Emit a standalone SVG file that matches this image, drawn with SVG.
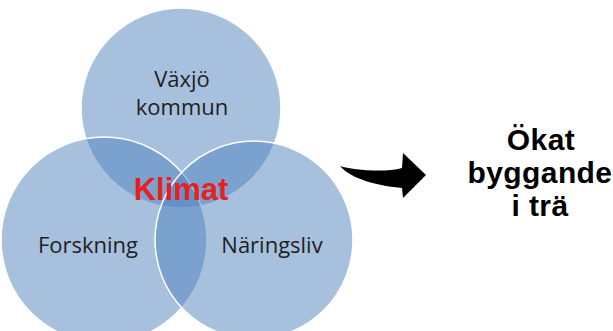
<svg xmlns="http://www.w3.org/2000/svg" width="613" height="331" viewBox="0 0 613 331">
<style>
.c{fill:#4f81bd;fill-opacity:0.5;stroke:#ffffff;stroke-width:1.5}
.lbl{font-family:"Open Sans","Liberation Sans",sans-serif;font-size:22px;fill:#1f1f1f;text-anchor:middle}
.big{font-family:"Liberation Sans",Arial,sans-serif;font-weight:bold;font-size:30px;letter-spacing:0.4px;fill:#000;text-anchor:middle}
</style>
<rect width="613" height="331" fill="#ffffff"/>
<g id="node-vaxjo">
<circle class="c" cx="181" cy="108" r="100"/>
</g>
<g id="node-forskning">
<circle class="c" cx="104" cy="240" r="103"/>
</g>
<g id="node-naringsliv">
<circle class="c" cx="254" cy="240" r="99"/>
</g>
<g id="labels">
<text class="lbl" x="182" y="87">Växjö</text>
<text class="lbl" x="182" y="115">kommun</text>
<text class="lbl" x="88" y="253">Forskning</text>
<text class="lbl" x="272" y="253">Näringsliv</text>
</g>
<g id="node-klimat">
<text x="181" y="200" font-family="Liberation Sans, Arial, sans-serif" font-weight="bold" font-size="31" fill="#e8201d" text-anchor="middle">Klimat</text>
</g>
<g id="connectors">
<path d="M340,166 C352,170 385,173 402,168 L403,153 L426,175 L403,198 L402,188 C380,186 352,180 340,166 Z" fill="#000"/>
</g>
<g id="node-result">
<text class="big" x="541" y="150">Ökat</text>
<text class="big" x="540" y="183">byggande</text>
<text class="big" x="540" y="216">i trä</text>
</g>
</svg>
